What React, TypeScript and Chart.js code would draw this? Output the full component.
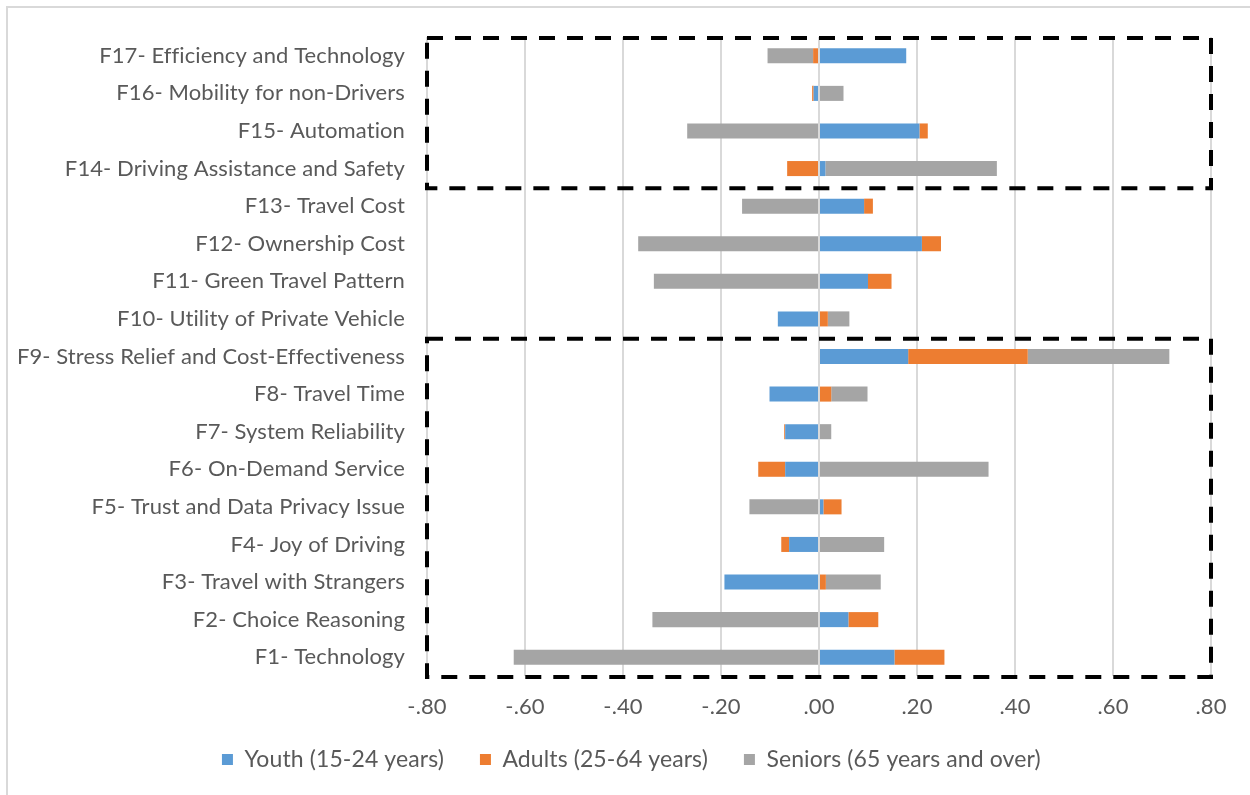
import React, { useEffect, useRef } from "react";
import { Chart, registerables } from "chart.js";

Chart.register(...registerables);

const categories = [
  "F17- Efficiency and Technology",
  "F16- Mobility for non-Drivers",
  "F15- Automation",
  "F14- Driving Assistance and Safety",
  "F13- Travel Cost",
  "F12- Ownership Cost",
  "F11- Green Travel Pattern",
  "F10- Utility of Private Vehicle",
  "F9- Stress Relief and Cost-Effectiveness",
  "F8- Travel Time",
  "F7- System Reliability",
  "F6- On-Demand Service",
  "F5- Trust and Data Privacy Issue",
  "F4- Joy of Driving",
  "F3- Travel with Strangers",
  "F2- Choice Reasoning",
  "F1- Technology",
];

const youth = [0.178, -0.011, 0.205, 0.013, 0.092, 0.21, 0.1, -0.084, 0.182, -0.101, -0.069, -0.069, 0.009, -0.061, -0.193, 0.06, 0.154];
const adults = [-0.012, -0.003, 0.017, -0.065, 0.018, 0.039, 0.048, 0.018, 0.244, 0.025, -0.002, -0.055, 0.037, -0.016, 0.014, 0.061, 0.102];
const seniors = [-0.093, 0.05, -0.269, 0.35, -0.157, -0.369, -0.337, 0.044, 0.289, 0.074, 0.025, 0.346, -0.142, 0.133, 0.112, -0.34, -0.623];

const seriesNames = ["Youth (15-24 years)", "Adults (25-64 years)", "Seniors (65 years and over)"];
const seriesColors = ["#5B9BD5", "#ED7D31", "#A5A5A5"];

const xMin = -0.8;
const xMax = 0.8;
const xStep = 0.2;

// dashed groups: [first category index, last category index]
const groups: [number, number][] = [
  [0, 3],
  [8, 16],
];

const FONT = "Lato, 'Open Sans', sans-serif";
const TEXT = "#595959";

const fmt = (v: number) => {
  const r = Math.round(v * 100) / 100;
  return r.toFixed(2).replace("0.", ".");
};

const framePlugin = {
  id: "frame",
  beforeDraw(chart: any) {
    const { ctx } = chart;
    ctx.save();
    ctx.strokeStyle = "#d9d9d9";
    ctx.lineWidth = 2;
    ctx.strokeRect(7, 7, chart.width + 50, chart.height + 50);
    ctx.restore();
    try {
      ctx.letterSpacing = "0.1px";
    } catch (e) {}
  },
};

const legendPlacePlugin = {
  id: "legendPlace",
  afterLayout(chart: any) {
    const lg = chart.legend;
    if (!lg) return;
    const h = lg.height;
    lg.top = 712;
    lg.bottom = 712 + h;
    lg.left += 19;
    lg.right += 19;
  },
};

const dashPlugin = {
  id: "dashBoxes",
  afterDatasetsDraw(chart: any) {
    const { ctx, scales, chartArea } = chart;
    const x = scales.x;
    const y = scales.y;
    const left = x.getPixelForValue(xMin);
    const right = x.getPixelForValue(xMax);
    const half = (y.getPixelForValue(1) - y.getPixelForValue(0)) / 2;
    ctx.save();
    ctx.strokeStyle = "#000";
    ctx.lineWidth = 4;
    ctx.setLineDash([16, 12]);
    groups.forEach(([a, b]) => {
      const top = Math.max(y.getPixelForValue(a) - half, chartArea.top) + 1;
      const bottom = Math.min(y.getPixelForValue(b) + half, chartArea.bottom) + 1;
      ctx.strokeRect(left, top, right - left, bottom - top);
    });
    ctx.restore();
  },
};

export default function App() {
  const ref = useRef<HTMLCanvasElement>(null);

  useEffect(() => {
    if (!ref.current) return;
    const chart = new Chart(ref.current, {
      type: "bar",
      data: {
        labels: categories,
        datasets: [youth, adults, seniors].map((d, i) => ({
          label: seriesNames[i],
          data: d,
          backgroundColor: seriesColors[i],
          borderWidth: 0,
          barPercentage: 1,
          categoryPercentage: 0.4,
        })),
      },
      options: {
        indexAxis: "y",
        responsive: false,
        animation: false,
        layout: { padding: { left: 7, right: 39, top: 37, bottom: 2 } },
        scales: {
          x: {
            stacked: true,
            min: xMin,
            max: xMax,
            ticks: {
              stepSize: xStep,
              color: TEXT,
              font: { family: FONT, size: 22 },
              padding: 18,
              callback: (v: any) => fmt(Number(v)),
            },
            grid: { color: "#d9d9d9", lineWidth: 2, drawTicks: false },
            border: { display: false },
            afterFit: (s: any) => {
              s.height = 48;
            },
          },
          y: {
            stacked: true,
            ticks: {
              color: TEXT,
              font: { family: FONT, size: 22 },
              padding: 14,
              autoSkip: false,
            },
            grid: { display: false },
            border: { display: false },
            afterFit: (s: any) => {
              s.width = 420;
            },
          },
        },
        plugins: {
          legend: {
            position: "bottom",
            labels: {
              boxWidth: 11,
              boxHeight: 11,
              padding: 36,
              color: TEXT,
              font: { family: FONT, size: 23 },
            },
          },
          tooltip: { enabled: false },
        },
      },
      plugins: [framePlugin, legendPlacePlugin, dashPlugin],
    });
    return () => chart.destroy();
  }, []);

  return (
    <div style={{ position: "absolute", left: 0, top: 0, width: 1250, height: 795, background: "#fff" }}>
      <canvas ref={ref} width={1250} height={795} />
    </div>
  );
}
